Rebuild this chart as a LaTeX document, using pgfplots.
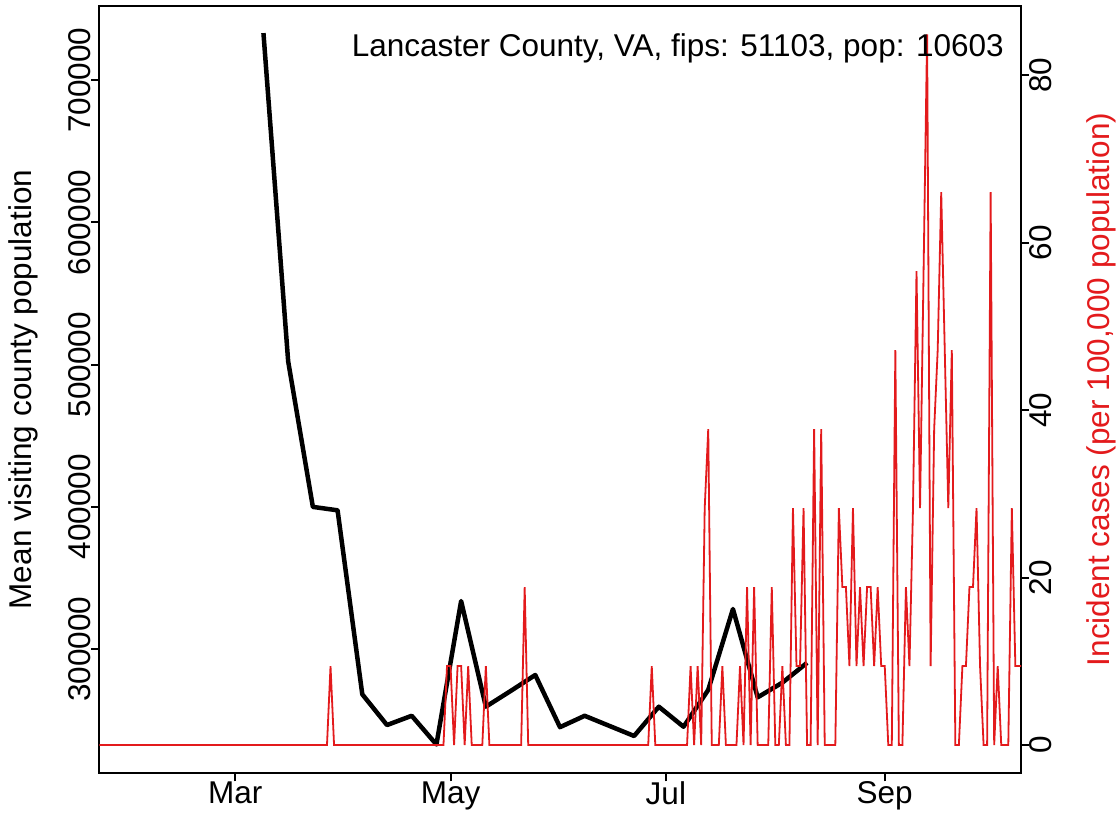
\documentclass[border=0pt]{standalone}
\usepackage{pgfplots}
\pgfplotsset{compat=1.18}
\usepackage{fontspec}
\setmainfont{Liberation Sans}
\definecolor{cred}{HTML}{E31A1C}

\pgfplotstableread{
day visits
68 733190
75 502400
82 400000
89 397600
96 268200
103 246600
110 253100
117 232900
124 333800
131 259500
138 270500
145 281800
152 245100
159 253100
166 246000
173 238900
180 259500
187 245400
194 271300
201 328200
208 266100
215 276400
222 290400
}\visits

\pgfplotstableread{
day cases
21 0
22 0
23 0
24 0
25 0
26 0
27 0
28 0
29 0
30 0
31 0
32 0
33 0
34 0
35 0
36 0
37 0
38 0
39 0
40 0
41 0
42 0
43 0
44 0
45 0
46 0
47 0
48 0
49 0
50 0
51 0
52 0
53 0
54 0
55 0
56 0
57 0
58 0
59 0
60 0
61 0
62 0
63 0
64 0
65 0
66 0
67 0
68 0
69 0
70 0
71 0
72 0
73 0
74 0
75 0
76 0
77 0
78 0
79 0
80 0
81 0
82 0
83 0
84 0
85 0
86 0
87 9.43
88 0
89 0
90 0
91 0
92 0
93 0
94 0
95 0
96 0
97 0
98 0
99 0
100 0
101 0
102 0
103 0
104 0
105 0
106 0
107 0
108 0
109 0
110 0
111 0
112 0
113 0
114 0
115 0
116 0
117 0
118 0
119 0
120 9.43
121 9.43
122 0
123 9.43
124 9.43
125 0
126 9.43
127 0
128 0
129 0
130 0
131 9.43
132 0
133 0
134 0
135 0
136 0
137 0
138 0
139 0
140 0
141 0
142 18.86
143 0
144 0
145 0
146 0
147 0
148 0
149 0
150 0
151 0
152 0
153 0
154 0
155 0
156 0
157 0
158 0
159 0
160 0
161 0
162 0
163 0
164 0
165 0
166 0
167 0
168 0
169 0
170 0
171 0
172 0
173 0
174 0
175 0
176 0
177 0
178 9.43
179 0
180 0
181 0
182 0
183 0
184 0
185 0
186 0
187 0
188 0
189 9.43
190 0
191 9.43
192 0
193 28.29
194 37.73
195 0
196 0
197 0
198 9.43
199 0
200 0
201 0
202 0
203 9.43
204 0
205 18.86
206 0
207 18.86
208 0
209 0
210 0
211 0
212 18.86
213 0
214 0
215 9.43
216 0
217 0
218 28.29
219 9.43
220 9.43
221 28.29
222 0
223 0
224 37.73
225 0
226 37.73
227 0
228 0
229 0
230 0
231 28.29
232 18.86
233 18.86
234 9.43
235 28.29
236 9.43
237 18.86
238 9.43
239 18.86
240 18.86
241 9.43
242 18.86
243 9.43
244 9.43
245 0
246 0
247 47.16
248 0
249 0
250 18.86
251 9.43
252 28.29
253 56.59
254 28.29
255 56.59
256 84.88
257 9.43
258 37.73
259 47.16
260 66.02
261 47.16
262 28.29
263 47.16
264 0
265 0
266 9.43
267 9.43
268 18.86
269 18.86
270 28.29
271 9.43
272 0
273 0
274 66.02
275 0
276 9.43
277 0
278 0
279 0
280 28.29
281 9.43
282 9.43
283 9.43
}\cases

\begin{document}
\begin{tikzpicture}[font=\fontsize{31.5}{37}\selectfont]
\useasboundingbox (-99.3pt,-48.7pt) rectangle (1019.7pt,773.3pt);
\begin{axis}[
  at={(0pt,0pt)}, anchor=south west,
  scale only axis, width=921.7pt, height=767.6pt,
  xmin=21.5, xmax=282.6, ymin=212660, ymax=752460,
  axis line style={line width=2pt},
  every tick/.style={line width=2pt, black},
  tick align=outside, major tick length=8pt,
  xtick={60,121,182,244}, xticklabels={Mar,May,Jul,Sep},
  xtick pos=left, ytick pos=left,
  ytick={300000,400000,500000,600000,700000},
  yticklabels={300000,400000,500000,600000,700000},
  scaled y ticks=false,
  yticklabel style={rotate=90, anchor=south, inner sep=0pt},
  xticklabel style={anchor=north, inner sep=0pt},
  ylabel={Mean visiting county population},
  ylabel style={at={(axis description cs:-0.0826,0.5)}, anchor=center, inner sep=0pt},
]
\addplot[black, line width=4.5pt, line join=round] table[x=day, y=visits] {\visits};
\end{axis}
\begin{axis}[
  at={(0pt,0pt)}, anchor=south west,
  scale only axis, width=921.7pt, height=767.6pt,
  xmin=21.5, xmax=282.6, ymin=-3.38, ymax=88.3,
  axis x line=none, axis y line*=right,
  axis line style={line width=2pt},
  every tick/.style={line width=2pt, black},
  tick align=outside, major tick length=8pt,
  ytick={0,20,40,60,80}, yticklabels={0,20,40,60,80},
  yticklabel style={rotate=90, anchor=north, inner sep=0pt},
  ylabel={Incident cases (per 100,000 population)},
  ylabel style={text=cred, at={(axis description cs:1.0868,0.5)}, anchor=center, inner sep=0pt},
]
\addplot[cred, line width=1.8pt, line join=miter] table[x=day, y=cases] {\cases};
\node[anchor=base east, inner sep=0pt] at (rel axis cs:0.9816,0.9332) {Lancaster County, VA, fips: 51103, pop: 10603};
\end{axis}
\end{tikzpicture}
\end{document}
